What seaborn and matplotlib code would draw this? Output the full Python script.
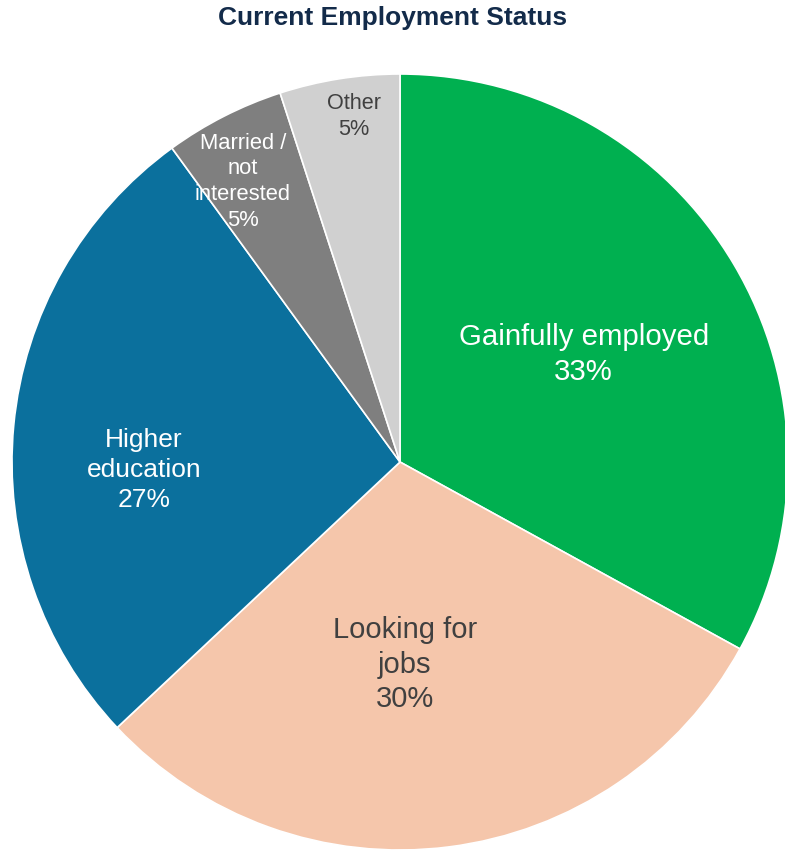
import numpy as np
import matplotlib
matplotlib.use("Agg")
import matplotlib.pyplot as plt
import seaborn as sns

# data (clockwise from 12 o'clock)
categories = ["Gainfully employed", "Looking for\njobs", "Higher\neducation",
              "Married /\nnot\ninterested", "Other"]
shares = [33, 30, 27, 5, 5]
colors = ["#00B050", "#F5C6AB", "#0B709D", "#7F7F7F", "#D0D0D0"]
text_colors = ["white", "#404040", "white", "white", "#404040"]
label_r = [0.55, 0.52, 0.66, 0.83, 0.90]
label_shift = [0, -5.8, 7, 2.2, -1.4]   # degrees
font_sizes = [21.2, 21, 19, 15.8, 15.6]

sns.set_theme(style="white")
plt.rcParams['font.family'] = ['Liberation Sans', 'DejaVu Sans']

fig = plt.figure(figsize=(7.85, 8.53), dpi=100)
ax = fig.add_axes([12/785, 2/853, 776/785, 776/853])

wedges, _ = ax.pie(shares, colors=colors, startangle=90, counterclock=False,
                   radius=1.0, wedgeprops=dict(edgecolor="white", linewidth=1.2))

for w, cat, val, tc, r, sh, fs in zip(wedges, categories, shares, text_colors,
                                      label_r, label_shift, font_sizes):
    ang = np.deg2rad((w.theta1 + w.theta2) / 2 + sh)
    ax.text(r * np.cos(ang), r * np.sin(ang), f"{cat}\n{val}%", ha="center", va="center",
            color=tc, fontsize=fs, linespacing=1.3)

ax.set_xlim(-1, 1)
ax.set_ylim(-1, 1)
ax.set_aspect("equal")
ax.axis("off")

fig.text(0.5, 0.979, "Current Employment Status", ha="center", va="center",
         fontsize=19, fontweight="bold", color="#132B4A")

fig.savefig("out.png", dpi=100)
